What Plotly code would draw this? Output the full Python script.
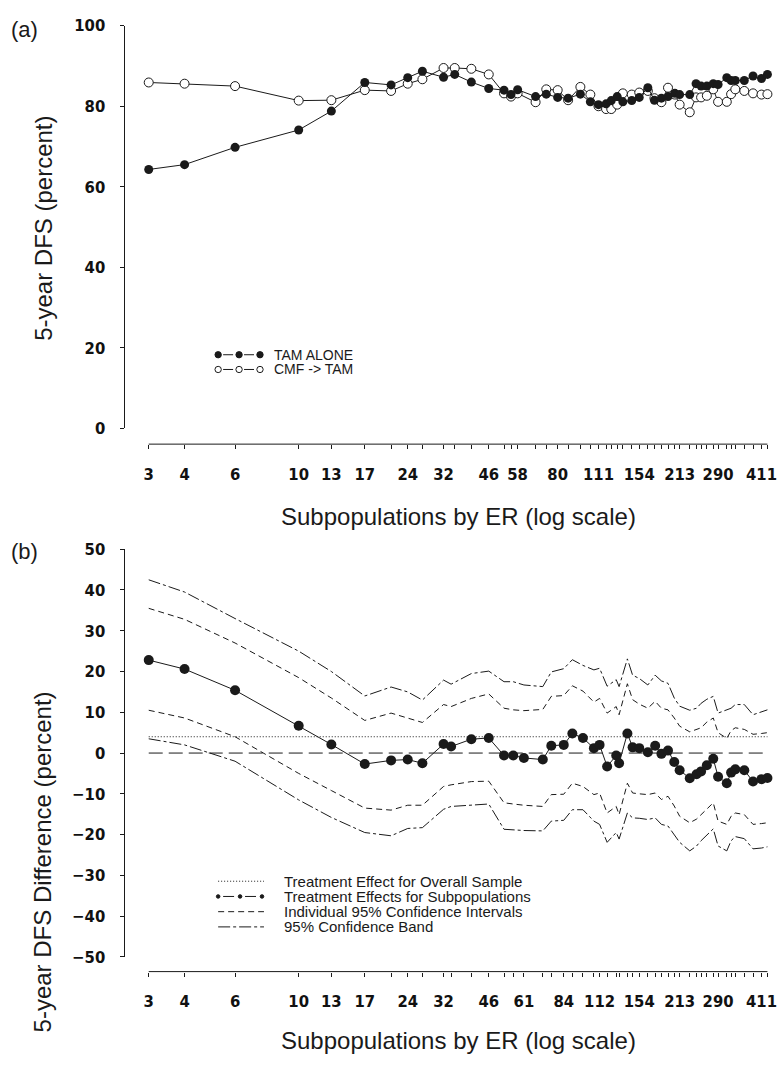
import math
import plotly.graph_objects as go

W, H = 777, 1070

# ---------------- data ----------------
# subpopulation medians (ER), panel (a) and panel (b)
X_A = [3, 4, 6, 10, 13, 17, 21, 24, 27, 32, 35, 40, 46, 52, 55, 58, 67, 73, 80, 87,
       96, 104, 111, 118, 123, 129, 135, 145, 154, 165, 174, 184, 194, 205, 213, 231,
       243, 253, 265, 279, 290, 311, 322, 333, 358, 384, 411, 431]
X_B = [3, 4, 6, 10, 13, 17, 21, 24, 27, 32, 34, 40, 46, 52, 56, 61, 71, 76, 84, 90,
       98, 107, 112, 119, 128, 131, 140, 146, 154, 165, 175, 184, 194, 204, 213, 231,
       244, 253, 265, 279, 290, 311, 322, 333, 358, 384, 411, 431]
TICK_LABELS_A = ["3", "4", "6", "10", "13", "17", "24", "32", "46", "58", "80", "111",
                 "154", "213", "290", "411"]
TICK_LABELS_B = ["3", "4", "6", "10", "13", "17", "24", "32", "46", "61", "84", "112",
                 "154", "213", "290", "411"]
Y_TICKS_A = [0, 20, 40, 60, 80, 100]
Y_TICKS_B = [-50, -40, -30, -20, -10, 0, 10, 20, 30, 40, 50]

TAM_ALONE = [64.3, 65.5, 69.8, 74.1, 78.8, 85.9, 85.3, 87.1, 88.7, 87.2,
             87.9, 86.0, 84.4, 84.0, 82.9, 84.1, 82.4, 83.0, 82.2, 82.0,
             83.0, 81.1, 80.4, 80.6, 81.4, 82.4, 81.1, 81.4, 82.2, 84.6,
             81.5, 82.0, 82.4, 83.2, 82.9, 82.9, 85.6, 85.0, 85.0, 85.6,
             85.4, 87.1, 86.4, 86.4, 86.4, 87.5, 86.9, 87.9]
CMF_TAM = [85.9, 85.6, 85.0, 81.4, 81.5, 84.0, 83.8, 85.6, 86.7, 89.5,
           89.5, 89.3, 87.9, 83.2, 82.4, 83.2, 81.0, 84.2, 84.0, 81.5,
           84.8, 82.9, 80.0, 79.3, 79.3, 80.4, 83.2, 82.9, 83.4, 83.8,
           82.0, 81.0, 84.6, 82.9, 80.4, 78.5, 82.2, 82.2, 82.6, 84.2,
           81.1, 81.1, 83.0, 84.2, 83.8, 83.2, 82.9, 83.0]

EFFECT = [22.8, 20.6, 15.4, 6.7, 2.1, -2.7, -1.8, -1.6, -2.5, 2.2,
          1.6, 3.4, 3.7, -0.6, -0.6, -1.2, -1.6, 1.8, 2.0, 4.8,
          3.7, 1.2, 2.0, -3.3, -0.6, -2.5, 4.8, 1.4, 1.2, 0.2,
          1.8, -0.2, 0.6, -2.2, -4.2, -6.2, -5.2, -4.5, -3.0, -1.4,
          -5.8, -7.4, -4.8, -4.0, -4.2, -7.0, -6.4, -6.1]
CI_UPPER = [35.5, 32.8, 27.0, 18.5, 13.5, 8.0, 9.8, 8.5, 7.5, 11.9,
            11.4, 13.4, 14.5, 11.0, 10.6, 10.4, 10.7, 13.9, 14.1, 16.5,
            15.2, 12.5, 13.4, 9.8, 11.4, 9.4, 17.0, 13.1, 12.0, 11.0,
            12.7, 11.0, 10.6, 8.6, 6.6, 5.2, 5.8, 6.2, 7.6, 8.6,
            5.0, 3.6, 5.5, 6.2, 5.8, 4.6, 4.8, 5.0]
CI_LOWER = [10.5, 8.6, 4.0, -5.0, -9.2, -13.5, -14.0, -12.8, -12.8, -8.2,
            -7.8, -7.0, -6.9, -12.2, -12.5, -12.8, -13.1, -10.2, -10.1, -7.4,
            -8.2, -10.2, -9.8, -14.7, -13.1, -15.1, -7.4, -9.8, -10.0, -10.2,
            -9.8, -11.4, -10.6, -13.0, -15.5, -17.1, -16.2, -15.1, -13.5, -12.2,
            -16.7, -17.5, -15.5, -14.7, -15.1, -17.5, -17.3, -17.1]
BAND_UPPER = [42.5, 39.5, 33.0, 25.0, 20.0, 14.0, 16.2, 15.0, 13.0, 17.9,
              16.9, 19.5, 20.1, 17.5, 17.5, 16.7, 16.3, 19.9, 20.7, 22.9,
              21.5, 20.4, 20.8, 16.4, 18.0, 16.3, 23.1, 19.1, 18.3, 16.7,
              19.1, 17.7, 17.1, 13.5, 11.5, 10.5, 11.0, 12.2, 13.2, 13.9,
              9.8, 10.6, 11.0, 11.9, 11.9, 9.4, 10.0, 10.6]
BAND_LOWER = [3.5, 2.0, -2.0, -11.5, -15.8, -19.5, -20.3, -18.5, -18.3, -13.8,
              -13.1, -12.7, -12.5, -18.7, -18.9, -19.0, -19.1, -16.7, -16.5, -13.9,
              -13.9, -16.7, -17.5, -21.9, -19.5, -21.1, -14.7, -15.9, -16.0, -16.3,
              -15.9, -17.5, -17.9, -19.9, -21.9, -24.0, -22.8, -21.5, -20.0, -18.6,
              -22.8, -24.0, -21.5, -20.5, -21.0, -23.5, -23.3, -23.0]
OVERALL_EFFECT = 4.0

# ---------------- styling helpers ----------------
INK = "#1a1a1a"
TEXT_FONT = "Liberation Sans, Arial, Helvetica, sans-serif"
TICK_FONT = dict(family="Liberation Sans Narrow, DejaVu Sans Condensed, Arial Narrow, sans-serif",
                 size=16.5, color="#111", weight="bold")


def px(x):
    return x / W


def py(y):
    return 1 - y / H


PLOT_LEFT, PLOT_RIGHT = 124, 777
LOG_RANGE = [0.3892, 2.6574]
X_DOMAIN = [px(PLOT_LEFT), px(PLOT_RIGHT)]


def xpaper(v):
    f = (math.log10(v) - LOG_RANGE[0]) / (LOG_RANGE[1] - LOG_RANGE[0])
    return X_DOMAIN[0] + f * (X_DOMAIN[1] - X_DOMAIN[0])


def ticktext(xs, labels):
    return [str(v) if str(v) in labels else "" for v in xs]


fig = go.Figure()

# ---------------- panel (a) ----------------
fig.add_trace(go.Scatter(
    x=X_A, y=CMF_TAM, mode="lines+markers", xaxis="x", yaxis="y",
    line=dict(color=INK, width=1),
    marker=dict(symbol="circle", size=9, color="white", line=dict(color=INK, width=1)),
    showlegend=False))
fig.add_trace(go.Scatter(
    x=X_A, y=TAM_ALONE, mode="lines+markers", xaxis="x", yaxis="y",
    line=dict(color=INK, width=1),
    marker=dict(symbol="circle", size=9, color=INK, line=dict(width=0)),
    showlegend=False))

# ---------------- panel (b) ----------------
band_dash = "12px,3px,3px,3px"
ci_dash = "6px,4px"
for ys, dash in [(BAND_UPPER, band_dash), (BAND_LOWER, band_dash),
                 (CI_UPPER, ci_dash), (CI_LOWER, ci_dash)]:
    fig.add_trace(go.Scatter(x=X_B, y=ys, mode="lines", xaxis="x2", yaxis="y2",
                             line=dict(color=INK, width=1, dash=dash), showlegend=False))
fig.add_trace(go.Scatter(x=[X_B[0], X_B[-1]], y=[OVERALL_EFFECT, OVERALL_EFFECT], mode="lines",
                         xaxis="x2", yaxis="y2", line=dict(color=INK, width=1, dash="1px,2px"),
                         showlegend=False))
fig.add_trace(go.Scatter(x=[X_B[0], X_B[-1]], y=[0, 0], mode="lines",
                         xaxis="x2", yaxis="y2", line=dict(color=INK, width=1, dash="14px,6px"),
                         showlegend=False))
fig.add_trace(go.Scatter(x=X_B, y=EFFECT, mode="lines+markers", xaxis="x2", yaxis="y2",
                         line=dict(color=INK, width=1),
                         marker=dict(size=10, color=INK, line=dict(width=0)),
                         showlegend=False))

# ---------------- axes ----------------
AXA_Y = 443
AXB_Y = 980
common_x = dict(type="log", domain=X_DOMAIN, range=LOG_RANGE, anchor="free",
                showline=False, showgrid=False, zeroline=False, ticks="outside",
                ticklen=4, tickwidth=1, tickcolor=INK, tickangle=0, tickfont=TICK_FONT,
                ticklabelstandoff=11, ticklabeloverflow="allow")
common_y = dict(anchor="free", position=px(PLOT_LEFT), showline=True, linecolor=INK,
                linewidth=1, showgrid=False, zeroline=False, ticks="outside", ticklen=4,
                tickwidth=1, tickcolor=INK, tickfont=TICK_FONT, ticklabelstandoff=11,
                ticklabeloverflow="allow")

fig.update_layout(
    width=W, height=H, margin=dict(l=0, r=0, t=0, b=0),
    paper_bgcolor="white", plot_bgcolor="white", showlegend=False,
    xaxis=dict(common_x, position=py(AXA_Y), tickvals=X_A,
               ticktext=ticktext(X_A, TICK_LABELS_A)),
    yaxis=dict(common_y, domain=[py(427), py(17)], range=[0, 100], tickvals=Y_TICKS_A),
    xaxis2=dict(common_x, position=py(AXB_Y), tickvals=X_B,
                ticktext=ticktext(X_B, TICK_LABELS_B)),
    yaxis2=dict(common_y, domain=[py(965), py(550)], range=[-50, 50], tickvals=Y_TICKS_B),
)

shapes = []
# detached x axis lines spanning first..last subpopulation
for xs, yline in [(X_A, AXA_Y), (X_B, AXB_Y)]:
    shapes.append(dict(type="line", xref="paper", yref="paper",
                       x0=xpaper(xs[0]), x1=xpaper(xs[-1]), y0=py(yline), y1=py(yline),
                       line=dict(color=INK, width=1)))


def seg(x0, x1, y, dash="solid"):
    shapes.append(dict(type="line", xref="paper", yref="paper", x0=px(x0), x1=px(x1),
                       y0=py(y), y1=py(y), line=dict(color=INK, width=1, dash=dash)))


def dot(cx, cy, r, filled=True):
    shapes.append(dict(type="circle", xref="paper", yref="paper",
                       x0=px(cx - r), x1=px(cx + r), y0=py(cy + r), y1=py(cy - r),
                       fillcolor=INK if filled else "white",
                       line=dict(color=INK, width=1)))


# legend (a)
for yy, filled in [(352, True), (367, False)]:
    seg(224, 234, yy)
    seg(245, 255, yy)
    for cx in (219, 240, 261):
        dot(cx, yy, 3.2, filled)

# legend (b)
LB = [888, 903.5, 919, 934.5]
seg(219, 265, LB[0], "1px,2px")
seg(224, 235, LB[1])
seg(246, 257, LB[1])
for cx in (219, 241, 263):
    dot(cx, LB[1], 1.8, True)
seg(219, 265, LB[2], "6px,4px")
seg(219, 265, LB[3], "12px,3px,3px,3px")

fig.update_layout(shapes=shapes)

ann = []


def text(x, y, s, size=15, anchor="left", angle=0):
    ann.append(dict(x=px(x), y=py(y), xref="paper", yref="paper", text=s, showarrow=False,
                    xanchor=anchor, yanchor="middle", textangle=angle,
                    font=dict(family=TEXT_FONT, size=size, color="#1a1a1a")))


text(25, 21, "(a)", 22, "center")
text(25, 552, "(b)", 22, "center")
text(43, 223, "5-year DFS (percent)", 24, "center", -90)
text(43, 868, "5-year DFS Difference (percent)", 24, "center", -90)
text(460, 517, "Subpopulations by ER (log scale)", 24, "center")
text(460, 1050, "Subpopulations by ER (log scale)", 24, "center")
text(273, 352, "TAM ALONE", 14)
text(273, 367, "CMF -> TAM", 14)
LEG_B = ["Treatment Effect for Overall Sample", "Treatment Effects for Subpopulations",
         "Individual 95% Confidence Intervals", "95% Confidence Band"]
for yy, s in zip(LB, LEG_B):
    text(283, yy, s, 15)

fig.update_layout(annotations=ann)
fig.write_html(
    "out.html",
    config={"displayModeBar": False},
    post_script="document.body.style.margin='0';document.body.style.overflow='hidden';",
)
